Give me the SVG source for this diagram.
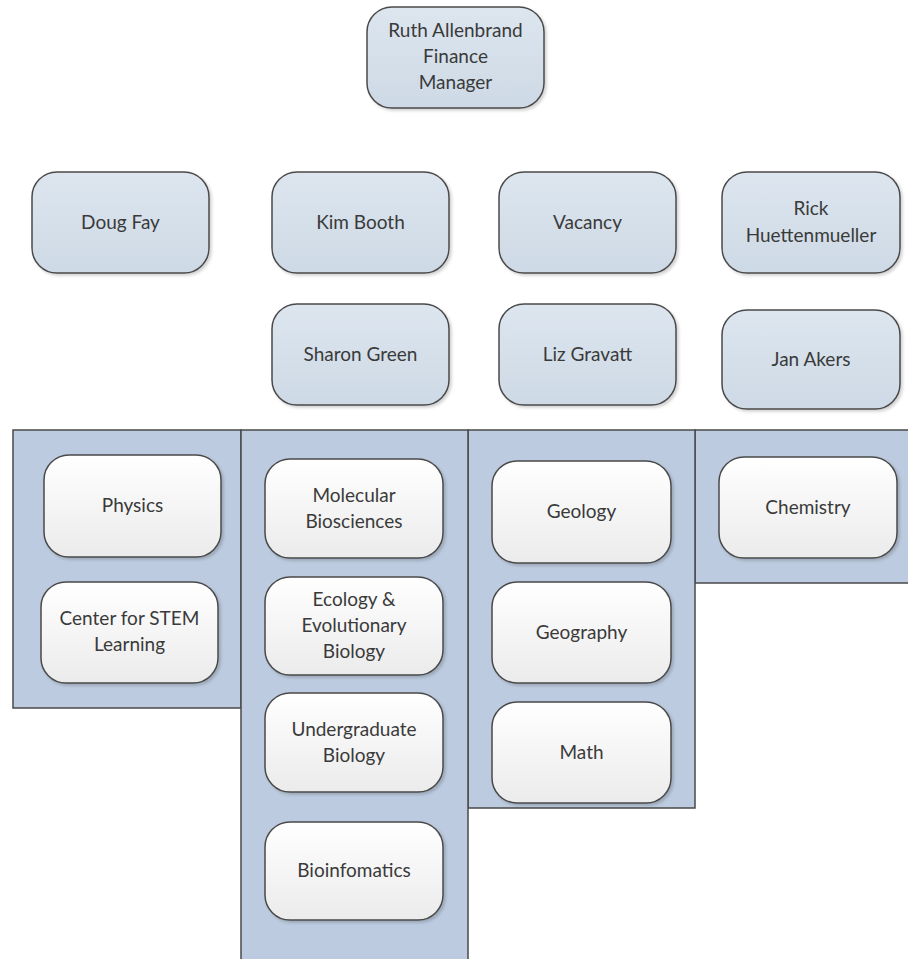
<svg xmlns="http://www.w3.org/2000/svg" width="908" height="959" viewBox="0 0 908 959">
<defs>
<linearGradient id="gBlue" x1="0" y1="0" x2="0" y2="1"><stop offset="0" stop-color="#dde6ef"/><stop offset="1" stop-color="#cdd9e5"/></linearGradient>
<linearGradient id="gWhite" x1="0" y1="0" x2="0" y2="1"><stop offset="0" stop-color="#ffffff"/><stop offset="1" stop-color="#ebebeb"/></linearGradient>
<filter id="sh" x="-10%" y="-10%" width="125%" height="130%"><feDropShadow dx="2" dy="2" stdDeviation="1.5" flood-color="#000" flood-opacity="0.18"/></filter>
<style>
.bg{fill:#ffffff}
.panel{fill:#bccbdf;stroke:#4a4a4a;stroke-width:1.5}
.pb{fill:url(#gBlue);stroke:#4a4a4a;stroke-width:1.5;filter:url(#sh)}
.pw{fill:url(#gWhite);stroke:#4a4a4a;stroke-width:1.5;filter:url(#sh)}
text{font-family:Lato,"Open Sans","Liberation Sans",sans-serif;font-size:19px;fill:#3a3a3a;text-anchor:middle}
</style>
</defs>
<rect class="bg" x="0" y="0" width="908" height="959"/>
<g id="panels">
<rect id="panel1" class="panel" x="13" y="430" width="228" height="278"/>
<rect id="panel4" class="panel" x="695" y="430" width="230" height="153"/>
<rect id="panel3" class="panel" x="468" y="430" width="227" height="378"/>
<rect id="panel2" class="panel" x="241" y="430" width="227" height="540"/>
</g>
<g id="connectors"></g>
<g id="ruth"><rect class="pb" x="367" y="7" width="177" height="101" rx="25"/><text x="455.5" y="37">Ruth Allenbrand</text><text x="455.5" y="63">Finance</text><text x="455.5" y="89">Manager</text></g>
<g id="doug"><rect class="pb" x="32" y="172" width="177" height="101" rx="25"/><text x="120.5" y="229">Doug Fay</text></g>
<g id="kim"><rect class="pb" x="272" y="172" width="177" height="101" rx="25"/><text x="360.5" y="229">Kim Booth</text></g>
<g id="vacancy"><rect class="pb" x="499" y="172" width="177" height="101" rx="25"/><text x="587.5" y="229">Vacancy</text></g>
<g id="rick"><rect class="pb" x="722" y="172" width="178" height="101" rx="25"/><text x="811" y="215">Rick</text><text x="811" y="242">Huettenmueller</text></g>
<g id="sharon"><rect class="pb" x="272" y="304" width="177" height="101" rx="25"/><text x="360.5" y="361">Sharon Green</text></g>
<g id="liz"><rect class="pb" x="499" y="304" width="177" height="101" rx="25"/><text x="587.5" y="361">Liz Gravatt</text></g>
<g id="jan"><rect class="pb" x="722" y="310" width="178" height="99" rx="25"/><text x="811" y="366">Jan Akers</text></g>
<g id="physics"><rect class="pw" x="44" y="455" width="177" height="102" rx="25"/><text x="132.5" y="512">Physics</text></g>
<g id="stem"><rect class="pw" x="41" y="582" width="177" height="101" rx="25"/><text x="129.5" y="625">Center for STEM</text><text x="129.5" y="651">Learning</text></g>
<g id="molecular"><rect class="pw" x="265" y="459" width="178" height="99" rx="25"/><text x="354" y="502">Molecular</text><text x="354" y="528">Biosciences</text></g>
<g id="ecology"><rect class="pw" x="265" y="577" width="178" height="98" rx="25"/><text x="354" y="606">Ecology &amp;</text><text x="354" y="632">Evolutionary</text><text x="354" y="658">Biology</text></g>
<g id="undergrad"><rect class="pw" x="265" y="693" width="178" height="99" rx="25"/><text x="354" y="736">Undergraduate</text><text x="354" y="762">Biology</text></g>
<g id="bioinf"><rect class="pw" x="265" y="822" width="178" height="98" rx="25"/><text x="354" y="877">Bioinfomatics</text></g>
<g id="geology"><rect class="pw" x="492" y="461" width="179" height="102" rx="25"/><text x="581.5" y="518">Geology</text></g>
<g id="geography"><rect class="pw" x="492" y="582" width="179" height="101" rx="25"/><text x="581.5" y="639">Geography</text></g>
<g id="math"><rect class="pw" x="492" y="702" width="179" height="101" rx="25"/><text x="581.5" y="759">Math</text></g>
<g id="chemistry"><rect class="pw" x="719" y="457" width="178" height="101" rx="25"/><text x="808" y="514">Chemistry</text></g>
</svg>
